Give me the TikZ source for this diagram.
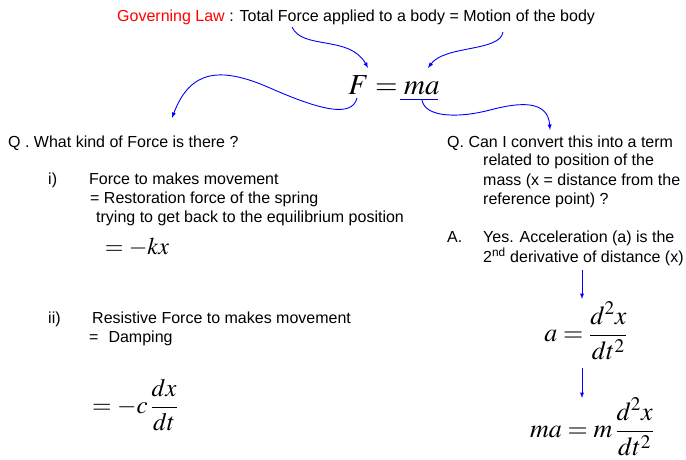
\documentclass[tikz,border=0pt]{standalone}
\usepackage{amsmath}
\usepackage{mathptmx}
\usepackage[no-math]{fontspec}
\setmainfont{Liberation Sans}
\usepackage{tikz}

\begin{document}
\begin{tikzpicture}[x=1pt,y=-1pt,>=latex]
    \tikzstyle{every node}=[inner sep=0pt]
    \tikzstyle{txt}=[anchor=base west,font=\fontsize{16}{19}\selectfont]
    \tikzstyle{eqn}=[font=\fontsize{24}{28}\selectfont]
    \tikzstyle{link}=[->,blue,line width=0.9pt]
    \useasboundingbox (0,0) rectangle (686,460);
    % governing law
    \draw node[txt](law)at(117,22){\textcolor{red}{Governing Law} : Total Force applied to a body = Motion of the body}
          node[eqn,font=\fontsize{29}{34}\selectfont](fma)at(394,85){$F = ma$};
    \coordinate(force)at(292,27); \coordinate(motion)at(503,32);
    \coordinate(lawF)at(368,68); \coordinate(lawma)at(428,68);
    \coordinate(maL)at(400,99); \coordinate(maR)at(438,99);
    \coordinate(Fbot)at(357,98); \coordinate(matail)at(422,100);
    \coordinate(qlefttip)at(172,118); \coordinate(qrighttip)at(550,130);
    \draw[blue,line width=0.9pt](maL)--(maR);
    \draw[link](force)..controls(302,50)and(350,35)..(lawF);
    \draw[link](motion)..controls(500,52)and(445,45)..(lawma);
    \draw[link](Fbot)..controls(352,118)and(320,110)..(270,88)..controls(220,66)and(190,70)..(qlefttip);
    \draw[link](matail)..controls(425,118)and(460,118)..(490,110)..controls(520,102)and(548,100)..(qrighttip);
    % left question
    \draw node[txt](qleft)at(8,147){Q . What kind of Force is there ?}
          node[txt](item1)at(48,184){i)}
          node[txt](move1)at(89,184){Force to makes movement}
          node[txt](spring1)at(90,203){= Restoration force of the spring}
          node[txt](spring2)at(96,222){trying to get back to the equilibrium position}
          node[eqn](hooke)at(137,247){$= -kx$}
          node[txt](item2)at(48,323){ii)}
          node[txt](move2)at(92,323){Resistive Force to makes movement}
          node[txt](damping)at(89,342){=\hspace{10pt}Damping}
          node[eqn,font=\fontsize{25}{29}\selectfont](damp)at(135,405){$= -c\,\dfrac{dx}{dt}$};
    % right question
    \draw node[txt](qright)at(447,147){Q. Can I convert this into a term}
          node[txt](qr2)at(483,165){related to position of the}
          node[txt](qr3)at(483,185){mass (x = distance from the}
          node[txt](qr4)at(483,204){reference point) ?}
          node[txt](ansA)at(447,242){A.}
          node[txt](ans1)at(483,242){Yes. Acceleration (a) is the}
          node[txt](ans2)at(483,262){2\textsuperscript{nd} derivative of distance (x)}
          node[eqn,font=\fontsize{26}{30}\selectfont](accel)at(586,331){$a = \dfrac{d^2x}{dt^2}$}
          node[eqn,font=\fontsize{26}{30}\selectfont](newton)at(592,427){$ma = m\,\dfrac{d^2x}{dt^2}$};
    \coordinate(d1)at(582,270); \coordinate(d2)at(582,299);
    \coordinate(d3)at(582,368); \coordinate(d4)at(582,398);
    \draw[link](d1)--(d2);
    \draw[link](d3)--(d4);
\end{tikzpicture}
\end{document}
